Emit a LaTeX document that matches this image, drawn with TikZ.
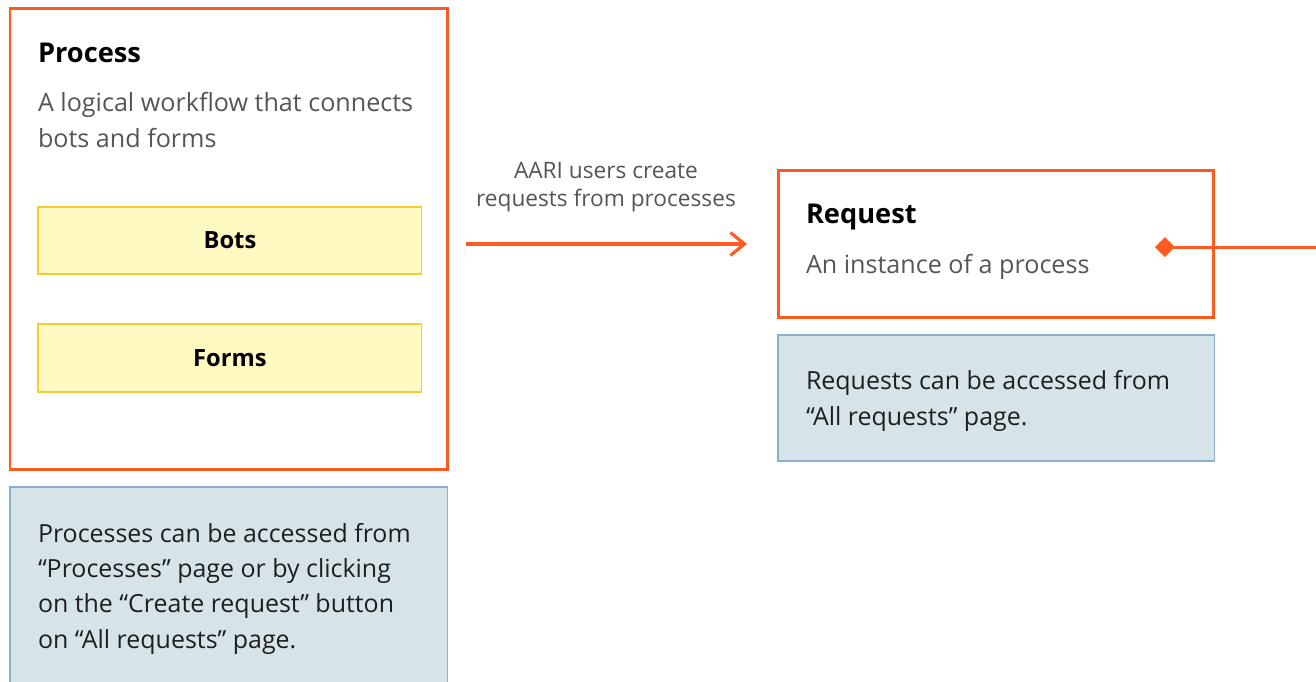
\documentclass[tikz,border=0pt]{standalone}
\usepackage{fontspec}
\setmainfont{Open Sans}
\usetikzlibrary{arrows.meta}

\definecolor{aaorange}{RGB}{255,90,31}
\definecolor{padfill}{RGB}{255,250,194}
\definecolor{padline}{RGB}{245,205,50}
\definecolor{notefill}{RGB}{214,228,234}
\definecolor{noteline}{RGB}{140,175,205}
\definecolor{desctext}{RGB}{85,85,85}
\definecolor{bodytext}{RGB}{30,30,30}

\begin{document}
\begin{tikzpicture}[
    x=0.02cm, y=-0.02cm,
    every node/.style={inner sep=0pt, outer sep=0pt},
    framebox/.style={draw=aaorange, line width=1.7pt, anchor=north west},
    padbox/.style={draw=padline, fill=padfill, line width=0.6pt, anchor=north west,
        font=\fontsize{13.5}{16}\selectfont\bfseries},
    notebox/.style={draw=noteline, fill=notefill, line width=0.6pt, anchor=north west},
    title/.style={anchor=base west, font=\fontsize{15.5}{18}\selectfont\bfseries},
    desc/.style={anchor=base west, align=left, text=desctext,
        font=\fontsize{14.3}{20.4}\selectfont},
    body/.style={anchor=base west, align=left, text=bodytext,
        font=\fontsize{14.2}{20.1}\selectfont},
    flow/.style={draw=aaorange, line width=1.8pt,
        -{Straight Barb[length=8pt, width=13pt, line width=1.8pt]}},
    link/.style={draw=aaorange, line width=1.7pt,
        {Diamond[length=11.3pt, width=11.3pt]}-}
]
\clip (0,0) rectangle (1316,681);

% Process side
\node[framebox, minimum width=8.76cm, minimum height=9.24cm] (process) at (10,8) {};
\node[title] (proctitle) at (38,62) {Process};
\node[desc] (procdesc) at (38,147) {A logical workflow that connects\\bots and forms};
\node[padbox, minimum width=7.68cm, minimum height=1.34cm] (bots) at (38,207) {Bots};
\node[padbox, minimum width=7.68cm, minimum height=1.36cm] (forms) at (38,324) {Forms};
\node[notebox, minimum width=8.76cm, minimum height=4.4cm] (procnote) at (10,487) {};
\node[body] (procnotetext) at (38,648) {Processes can be accessed from\\%
  ``Processes'' page or by clicking\\on the ``Create request'' button\\on ``All requests'' page.};

% Request side
\node[framebox, minimum width=8.72cm, minimum height=2.96cm] (request) at (778,170) {};
\node[title] (reqtitle) at (806,223) {Request};
\node[desc] (reqdesc) at (806,273) {An instance of a process};
\node[notebox, minimum width=8.74cm, minimum height=2.52cm] (reqnote) at (778,335) {};
\node[body] (reqnotetext) at (806,425) {Requests can be accessed from\\``All requests'' page.};

% Process -> Request
\draw[flow, shorten <=0.36cm, shorten >=0.62cm] (process.east |- request.west) -- (request.west)
    node[midway, above=18pt, xshift=-0.14cm, align=center, text=desctext,
         font=\fontsize{12.9}{15.9}\selectfont] (flowlabel) {AARI users create\\requests from processes};

% Outgoing link
\coordinate (tap) at (1155,247);
\coordinate (exit) at (1316,247);
\draw[link] (tap) -- (exit);

\end{tikzpicture}
\end{document}
